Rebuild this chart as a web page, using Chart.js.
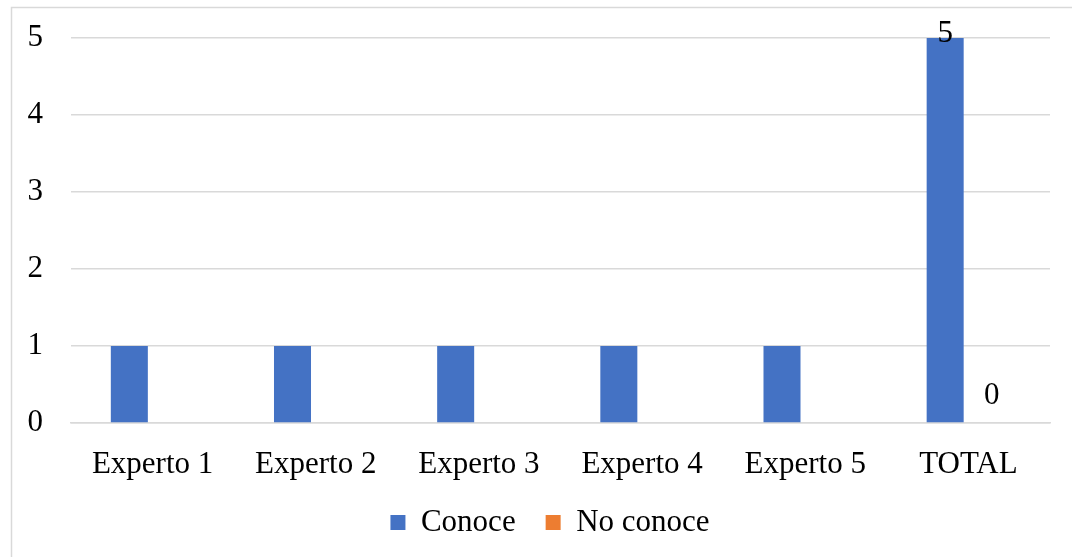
<!DOCTYPE html>
<html>
<head>
<meta charset="utf-8">
<script src="https://cdn.jsdelivr.net/npm/chart.js@4.4.1/dist/chart.umd.min.js"></script>
<style>
    html, body { margin: 0; padding: 0; background: #ffffff; }
    #wrap { position: relative; width: 1072px; height: 557px; }
</style>
</head>
<body>
<div id="wrap"><canvas id="chart" width="1072" height="557"></canvas></div>
<script>
const categories = ['Experto 1', 'Experto 2', 'Experto 3', 'Experto 4', 'Experto 5', 'TOTAL'];
const conoce = [1, 1, 1, 1, 1, 5];
const noConoce = [0, 0, 0, 0, 0, 0];
const yTicks = [0, 1, 2, 3, 4, 5];
const labelledCategory = 'TOTAL';

const FONT = "'Liberation Serif', 'Times New Roman', serif";

// outer light grey frame of the chart
const framePlugin = {
    id: 'frame',
    beforeDraw(chart) {
        const ctx = chart.ctx;
        ctx.save();
        ctx.strokeStyle = '#d9d9d9';
        ctx.lineWidth = 1.5;
        ctx.strokeRect(11.5, 7.5, 1200, 700);
        ctx.restore();
    }
};

// legend sits a bit right of the canvas centre (and a bit higher) in the original
const legendShift = {
    id: 'legendShift',
    afterLayout(chart) {
        chart.legend.left += 25;
        chart.legend.right += 25;
        chart.legend.top -= 9;
        chart.legend.bottom -= 9;
    }
};

// value labels, only on the TOTAL group
const valueLabels = {
    id: 'valueLabels',
    afterDatasetsDraw(chart) {
        const ctx = chart.ctx;
        const idx = categories.indexOf(labelledCategory);
        ctx.save();
        ctx.font = '31px ' + FONT;
        ctx.fillStyle = '#000000';
        ctx.textAlign = 'center';
        ctx.textBaseline = 'alphabetic';
        chart.data.datasets.forEach((ds, i) => {
            const bar = chart.getDatasetMeta(i).data[idx];
            let y = bar.y - 19;
            if (y - 20 < 10) y = bar.y + 4;
            ctx.fillText(String(ds.data[idx]), bar.x, y);
        });
        ctx.restore();
    }
};

new Chart(document.getElementById('chart'), {
    type: 'bar',
    data: {
        labels: categories,
        datasets: [
            {
                label: 'Conoce',
                data: conoce,
                backgroundColor: '#4472c4',
                categoryPercentage: 0.57,
                barPercentage: 0.796
            },
            {
                label: 'No conoce',
                data: noConoce,
                backgroundColor: '#ed7d31',
                categoryPercentage: 0.57,
                barPercentage: 0.796
            }
        ]
    },
    options: {
        responsive: false,
        animation: false,
        events: [],
        layout: {
            padding: { top: 38, left: 0, right: 22, bottom: 0 }
        },
        scales: {
            y: {
                min: 0,
                max: 5,
                afterBuildTicks: (scale) => {
                    scale.ticks = yTicks.map(v => ({ value: v }));
                },
                afterFit: (scale) => {
                    scale.width = 71;
                    scale.paddingTop = 0;
                    scale.paddingBottom = 0;
                },
                border: { display: false },
                grid: { color: '#d9d9d9', lineWidth: 1.5, drawTicks: false },
                ticks: {
                    padding: 28,
                    color: '#000000',
                    font: { family: FONT, size: 31 }
                }
            },
            x: {
                afterFit: (scale) => { scale.height = 63; },
                border: { color: '#d9d9d9', width: 1.5 },
                grid: { display: false, drawTicks: false },
                ticks: {
                    padding: 23,
                    color: '#000000',
                    maxRotation: 0,
                    font: { family: FONT, size: 31 }
                }
            }
        },
        plugins: {
            legend: {
                position: 'bottom',
                labels: {
                    boxWidth: 15,
                    boxHeight: 15,
                    padding: 30,
                    color: '#000000',
                    font: { family: FONT, size: 31 }
                }
            },
            tooltip: { enabled: false }
        }
    },
    plugins: [framePlugin, legendShift, valueLabels]
});
</script>
</body>
</html>
